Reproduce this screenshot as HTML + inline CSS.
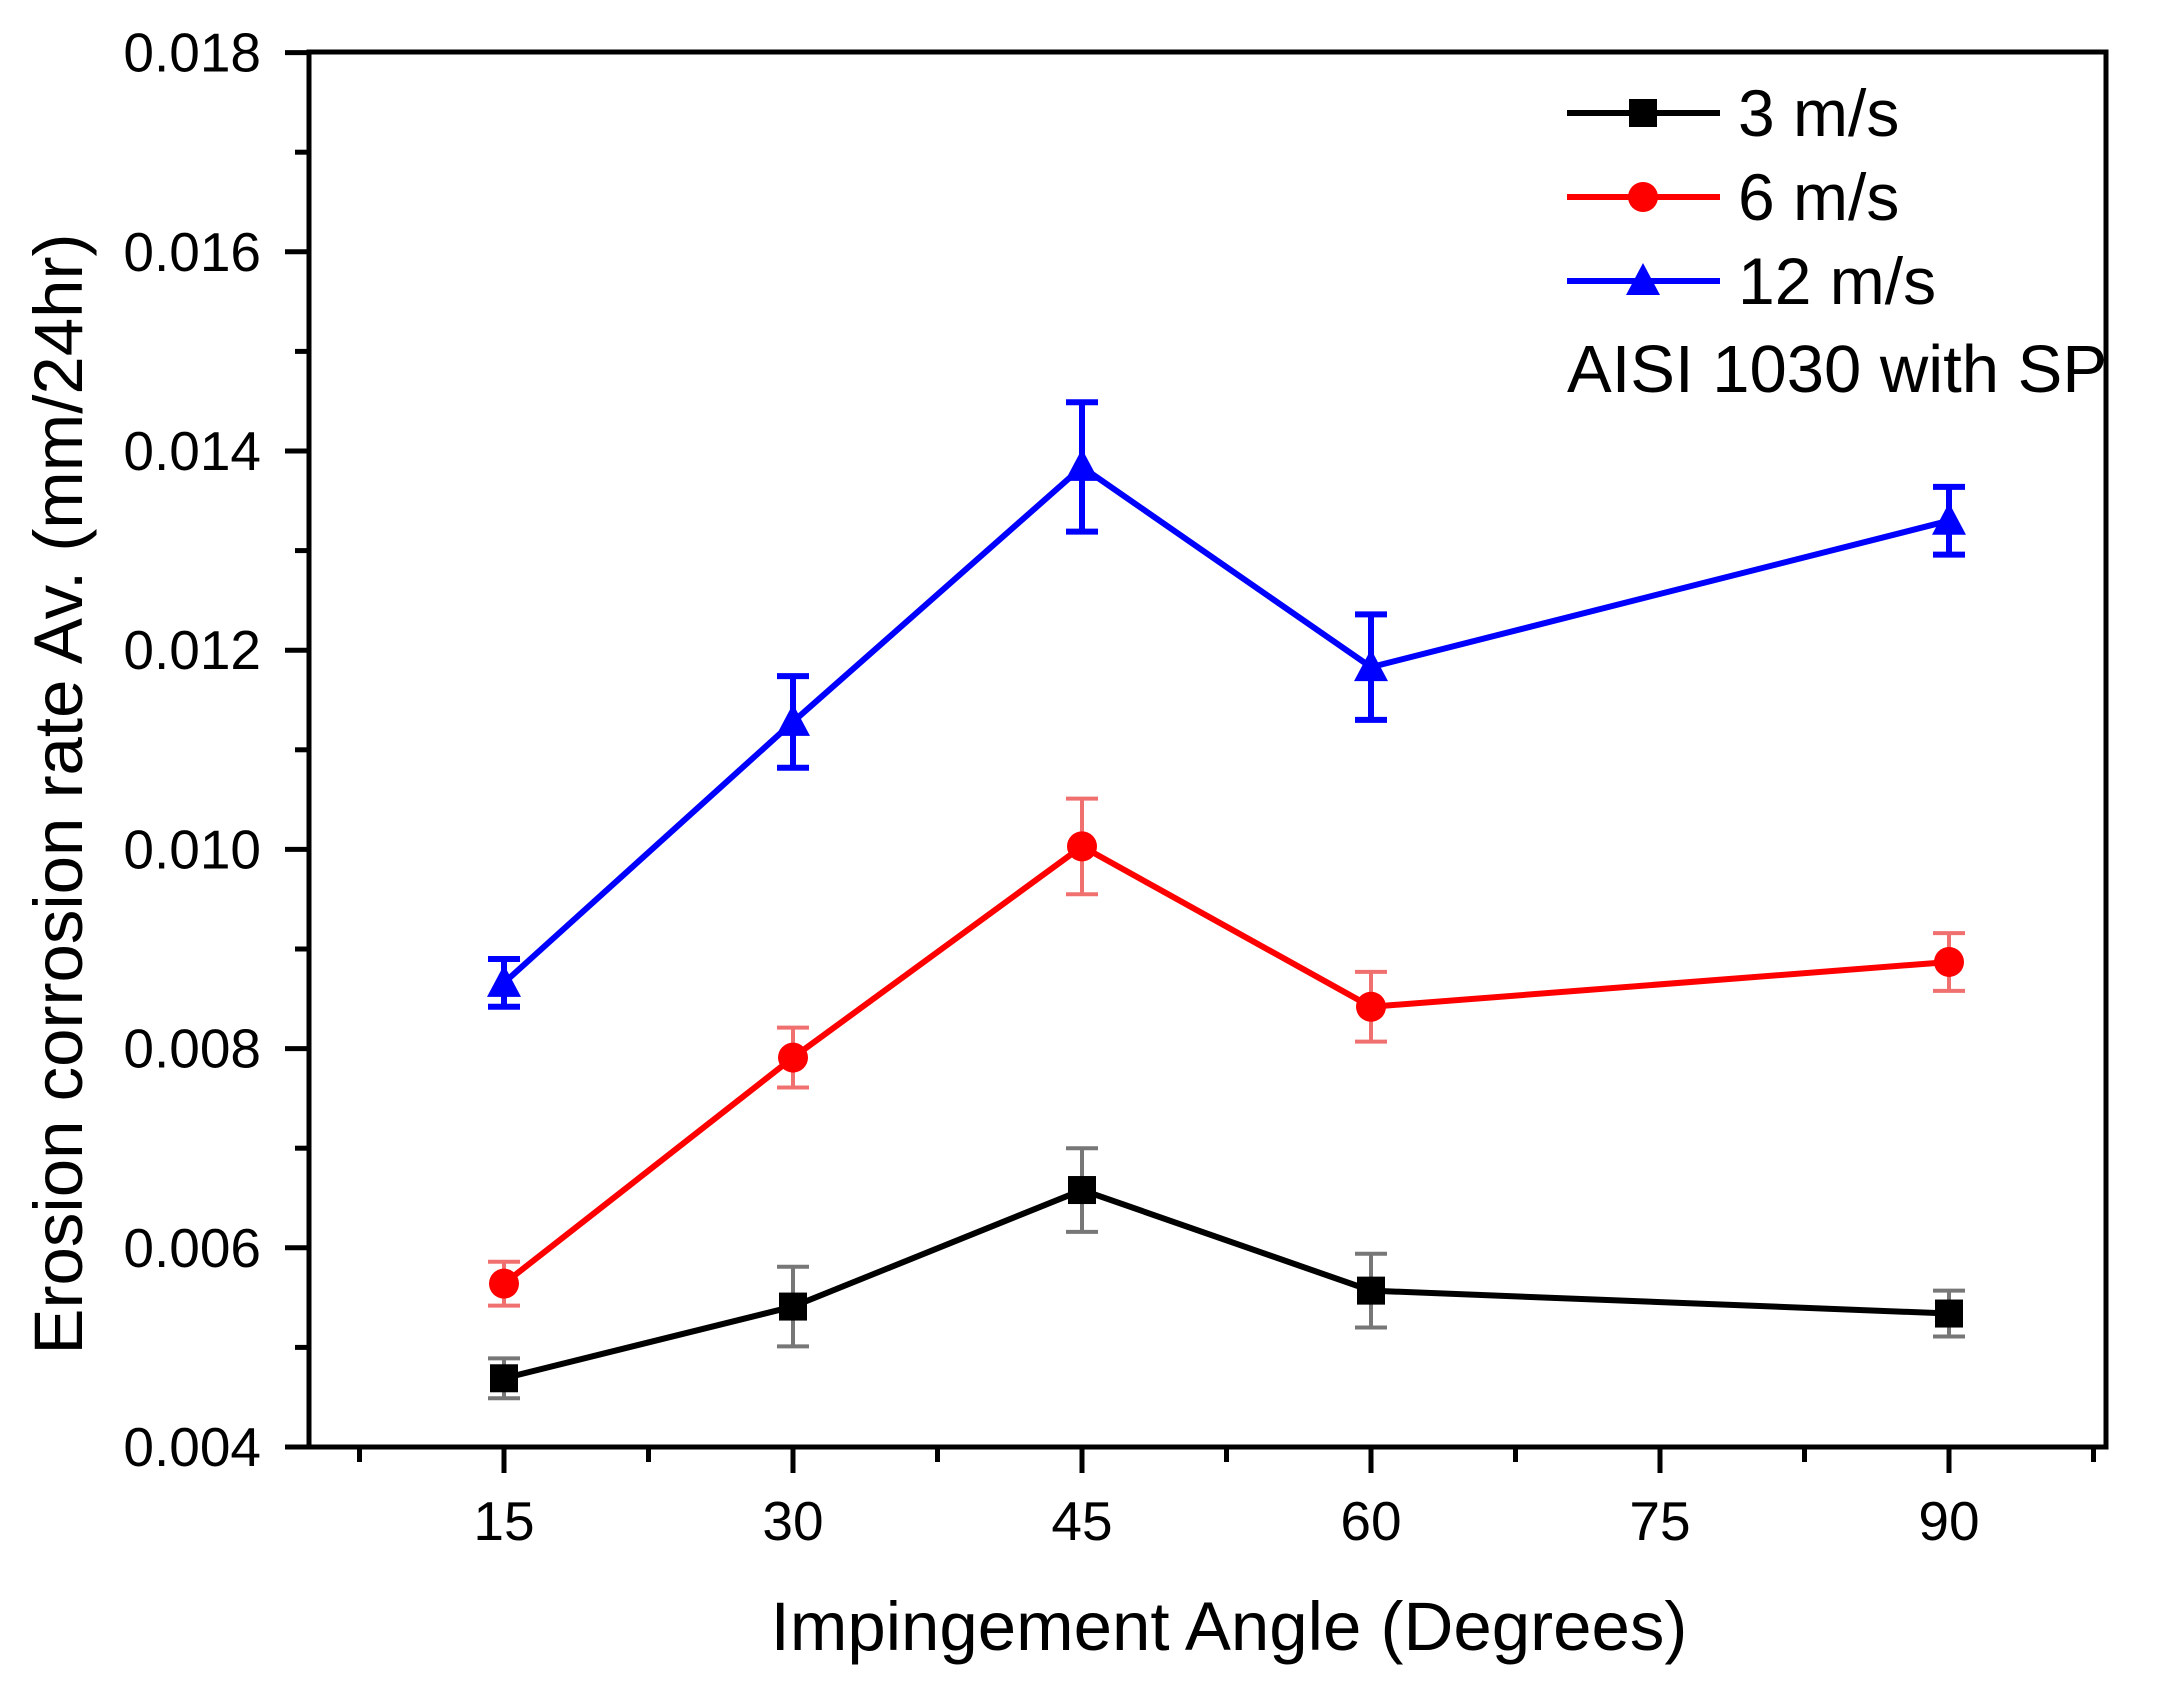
<!DOCTYPE html>
<html><head><meta charset="utf-8"><style>
html,body{margin:0;padding:0;background:#fff}
svg{display:block;font-family:"Liberation Sans",Arial,sans-serif}
</style></head><body>
<svg id="chart" width="2165" height="1685" viewBox="0 0 2165 1685" xmlns="http://www.w3.org/2000/svg"></svg>
<script>
const angles=[15,30,45,60,90];
const v3=[0.00469,0.00541,0.00658,0.00557,0.00534];
const e3=[0.0002,0.0004,0.00042,0.00037,0.00023];
const v6=[0.00564,0.00791,0.01003,0.00842,0.00887];
const e6=[0.00022,0.0003,0.00048,0.00035,0.00029];
const v12=[0.00866,0.01128,0.01384,0.01183,0.0133];
const e12=[0.00024,0.00046,0.00065,0.00053,0.00034];
const xTicks=[15,30,45,60,75,90];
const yTicks=[0.004,0.006,0.008,0.010,0.012,0.014,0.016,0.018];
const legendLabels=["3 m/s","6 m/s","12 m/s"];

const L=309,R=2106,T=52,B=1447;
function X(v){return 504+(v-15)*289/15;}
function Y(v){return B-(v-0.004)/0.002*199.2;}
const svg=document.getElementById('chart');
const NS='http://www.w3.org/2000/svg';
function mk(tag,attrs,parent){const e=document.createElementNS(NS,tag);for(const k in attrs)e.setAttribute(k,attrs[k]);(parent||svg).appendChild(e);return e;}

let ax=mk('rect',{x:L,y:T,width:R-L,height:B-T,fill:'none',stroke:'#000','stroke-width':5});


yTicks.forEach((t,i)=>{
  const y=Y(t);
  let tk=mk('line',{x1:L-24,x2:L,y1:y,y2:y,stroke:'#000','stroke-width':5});
  
  
  if(i<yTicks.length-1){const ym=Y(t+0.001);
    let mn=mk('line',{x1:L-14,x2:L,y1:ym,y2:ym,stroke:'#000','stroke-width':5});
    
    }
  let tx=mk('text',{x:261,y:y+19,'text-anchor':'end','font-size':55,fill:'#000'});
  tx.textContent=t.toFixed(3);
  
  
});
for(let v=7.5;v<98;v+=7.5){
  const x=X(v);const major=xTicks.includes(v);
  let tk=mk('line',{x1:x,x2:x,y1:B,y2:B+(major?26:15),stroke:'#000','stroke-width':5});
  
  
}
xTicks.forEach(t=>{
  let tx=mk('text',{x:X(t),y:1540,'text-anchor':'middle','font-size':55,fill:'#000'});
  tx.textContent=t;
  
  
});
let xt=mk('text',{x:1229,y:1650,'text-anchor':'middle','font-size':69,fill:'#000'});
xt.textContent='Impingement Angle (Degrees)';


let yt=mk('text',{x:0,y:0,'text-anchor':'middle','font-size':69,fill:'#000',transform:'translate(82,794) rotate(-90)'});
yt.textContent='Erosion corrosion rate Av. (mm/24hr)';



function marker(shape,x,y,c,name){
  let m;
  if(shape==='sq') m=mk('rect',{x:x-14,y:y-14,width:28,height:28,fill:c});
  else if(shape==='ci') m=mk('circle',{cx:x,cy:y,r:15,fill:c});
  else m=mk('polygon',{points:`${x},${y-18} ${x-17},${y+14} ${x+17},${y+14}`,fill:c});
  
  
}
const series=[
 {vals:v3,errs:e3,c:'#000',ec:'#777',ew:4,shape:'sq',n:'3ms'},
 {vals:v6,errs:e6,c:'#f00',ec:'#f07070',ew:4,shape:'ci',n:'6ms'},
 {vals:v12,errs:e12,c:'#00f',ec:'#00f',ew:6,shape:'tr',n:'12ms'}];
series.forEach(s=>{
  s.vals.forEach((v,i)=>{
    const x=X(angles[i]),y1=Y(v+s.errs[i]),y2=Y(v-s.errs[i]);
    let g=mk('path',{d:`M${x},${y1}V${y2}M${x-16},${y1}H${x+16}M${x-16},${y2}H${x+16}`,stroke:s.ec,'stroke-width':s.ew,fill:'none'});
    
    
  });
  let p=mk('polyline',{points:s.vals.map((v,i)=>X(angles[i])+','+Y(v)).join(' '),fill:'none',stroke:s.c,'stroke-width':6});
  
  
  s.vals.forEach((v,i)=>marker(s.shape,X(angles[i]),Y(v),s.c,'point-'+s.n));
});
series.forEach((s,i)=>{
  const y=113+i*84;
  let l=mk('line',{x1:1567,x2:1720,y1:y,y2:y,stroke:s.c,'stroke-width':6});
  
  
  marker(s.shape,1643,y,s.c,'legend-marker-'+s.n);
  let t=mk('text',{x:1738,y:y+23,'font-size':66,fill:'#000'});
  t.textContent=legendLabels[i];
  
  
});
let note=mk('text',{x:1567,y:392,'font-size':67,fill:'#000'});
note.textContent='AISI 1030 with SP';


</script>
</body></html>
